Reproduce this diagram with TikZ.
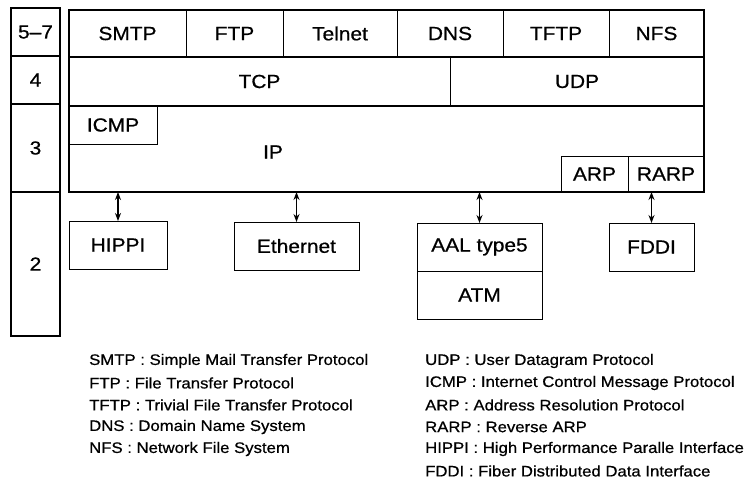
\documentclass[tikz,border=0pt]{standalone}
\usepackage{fontspec}
\setmainfont{Liberation Sans}[FakeStretch=1.1,FakeBold=0.7]
\usetikzlibrary{arrows.meta}
\begin{document}
\begin{tikzpicture}[x=1pt,y=-1pt,
  cell/.style={draw,line width=0.9pt,inner sep=0pt,outer sep=0pt,
    font=\fontsize{19}{19}\selectfont},
  layercell/.style={draw,line width=1.4pt,inner sep=0pt,outer sep=0pt,
    font=\fontsize{19}{19}\selectfont},
  lbl/.style={inner sep=0pt,font=\fontsize{19}{19}\selectfont},
  legend/.style={anchor=west,inner sep=0pt,font=\fontsize{15.2}{15.2}\selectfont},
  thick frame/.style={line width=2.6pt},
  link/.style={line width=1.8pt,{Stealth[length=8pt,width=6pt]}-{Stealth[length=8pt,width=6pt]}}
]
\useasboundingbox (0,0) rectangle (745,495);

% OSI layer numbers on the left
\node[layercell,minimum width=49pt,minimum height=48pt] (l57) at (35.5,32) {5--7};
\node[layercell,minimum width=49pt,minimum height=48pt] (l4)  at (35.5,80) {4};
\node[layercell,minimum width=49pt,minimum height=88pt] (l3)  at (35.5,148) {3};
\node[layercell,minimum width=49pt,minimum height=144pt] (l2) at (35.5,264) {2};

% application layer
\node[cell,minimum width=117pt,minimum height=47pt] (smtp)   at (127.5,33.5) {SMTP};
\node[cell,minimum width=97pt,minimum height=47pt]  (ftp)    at (234.5,33.5) {FTP};
\node[cell,minimum width=114pt,minimum height=47pt] (telnet) at (340,33.5) {Telnet};
\node[cell,minimum width=106pt,minimum height=47pt] (dns)    at (450,33.5) {DNS};
\node[cell,minimum width=106pt,minimum height=47pt] (tftp)   at (556,33.5) {TFTP};
\node[cell,minimum width=95pt,minimum height=47pt]  (nfs)    at (656.5,33.5) {NFS};

% transport layer
\node[cell,minimum width=381pt,minimum height=49pt] (tcp) at (259.5,81.5) {TCP};
\node[cell,minimum width=254pt,minimum height=49pt] (udp) at (577,81.5) {UDP};

% network layer
\node[cell,minimum width=635pt,minimum height=86pt] (ip) at (386.5,149) {};
\node[lbl] (iplbl) at (273,152) {IP};
\node[cell,minimum width=88pt,minimum height=38pt] (icmp) at (113,125) {ICMP};
\node[cell,minimum width=67pt,minimum height=36pt] (arp)  at (594.5,174) {ARP};
\node[cell,minimum width=76pt,minimum height=36pt] (rarp) at (666,174) {RARP};

% heavy outline of the protocol stack
\draw[thick frame] (smtp.north west) rectangle (ip.south east);
\draw[line width=2pt] (smtp.south west) -- (nfs.south east);
\draw[thick frame] (tcp.south west) -- (udp.south east);

% data link layer
\node[cell,minimum width=98pt,minimum height=48pt]  (hippi) at (118,245) {HIPPI};
\node[cell,minimum width=125pt,minimum height=48pt] (eth)   at (296.5,246) {Ethernet};
\node[cell,minimum width=125pt,minimum height=48pt] (aal)   at (479.5,247) {AAL type5};
\node[cell,minimum width=125pt,minimum height=48pt] (atm)   at (479.5,295) {ATM};
\node[cell,minimum width=85pt,minimum height=48pt]  (fddi)  at (651.5,247) {FDDI};

% links between IP and the data link layer
\draw[link] (ip.south -| hippi.north) -- (hippi.north);
\draw[link] (ip.south -| eth.north) -- (eth.north);
\draw[link] (ip.south -| aal.north) -- (aal.north);
\draw[link] (ip.south -| fddi.north) -- (fddi.north);

% abbreviations
\node[legend] (k1) at (89,361) {SMTP : Simple Mail Transfer Protocol};
\node[legend] (k2) at (89,383) {FTP : File Transfer Protocol};
\node[legend] (k3) at (89,405) {TFTP : Trivial File Transfer Protocol};
\node[legend] (k4) at (89,427) {DNS : Domain Name System};
\node[legend] (k5) at (89,449) {NFS : Network File System};

\node[legend] (k6)  at (425,361) {UDP : User Datagram Protocol};
\node[legend] (k7)  at (425,383) {ICMP : Internet Control Message Protocol};
\node[legend] (k8)  at (425,405) {ARP : Address Resolution Protocol};
\node[legend] (k9)  at (425,427) {RARP : Reverse ARP};
\node[legend] (k10) at (425,449) {HIPPI : High Performance Paralle Interface};
\node[legend] (k11) at (425,471) {FDDI : Fiber Distributed Data Interface};
\end{tikzpicture}
\end{document}
